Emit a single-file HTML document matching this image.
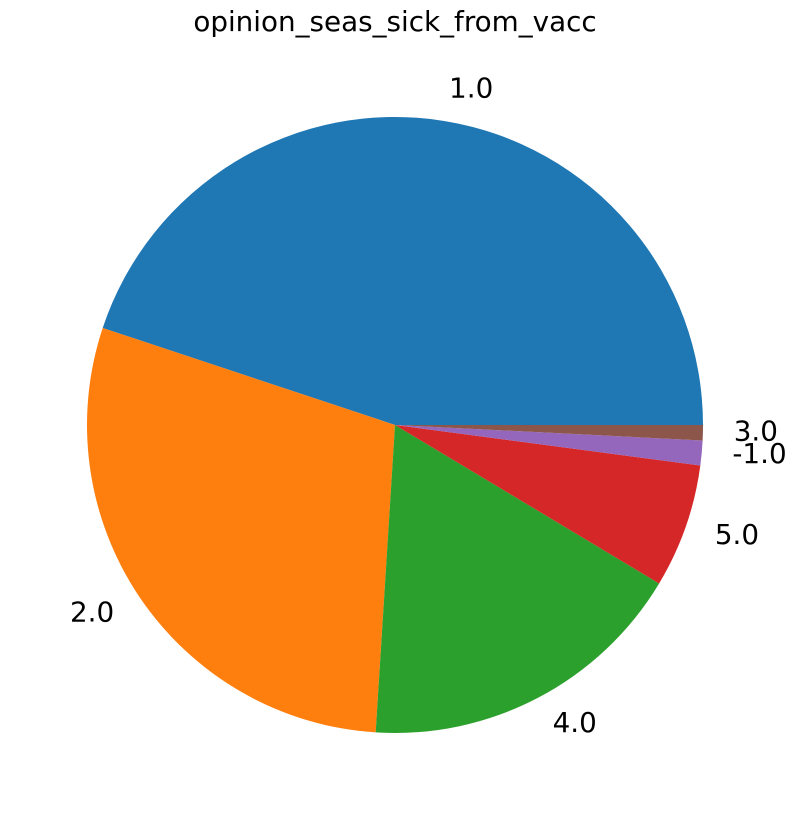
<!DOCTYPE html>
<html><head><meta charset="utf-8"><style>
body{margin:0;background:#fff;}
svg{display:block;font-family:"DejaVu Sans","Liberation Sans",sans-serif;}
</style></head><body>
<svg id="chart" width="796" height="820">
<text x="395" y="31" font-size="27.8" text-anchor="middle" fill="#000">opinion_seas_sick_from_vacc</text>
</svg>
<script>
const categories = ["1.0","2.0","4.0","5.0","-1.0","3.0"];
const values = [449, 291, 174, 65, 13, 8];
const colors = ["#1f77b4","#ff7f0e","#2ca02c","#d62728","#9467bd","#8c564b"];
const svg = document.getElementById('chart');
const NS = 'http://www.w3.org/2000/svg';
const cx = 395, cy = 425, r = 308;
const total = values.reduce((a,b)=>a+b,0);
let start = 0;
function pt(a, rad){ return [cx + rad*Math.cos(a), cy - rad*Math.sin(a)]; }
values.forEach((v,i)=>{
  const sweep = v/total*2*Math.PI;
  const end = start + sweep;
  const [x1,y1] = pt(start,r), [x2,y2] = pt(end,r);
  const large = sweep > Math.PI ? 1 : 0;
  const p = document.createElementNS(NS,'path');
  p.setAttribute('d',`M${cx},${cy} L${x1},${y1} A${r},${r} 0 ${large} 0 ${x2},${y2} Z`);
  p.setAttribute('fill',colors[i]);
  
  
  svg.appendChild(p);
  const mid = start + sweep/2;
  const [lx,ly] = pt(mid, r*1.1);
  const t = document.createElementNS(NS,'text');
  t.setAttribute('x',lx);
  t.setAttribute('y',ly+7);
  t.setAttribute('font-size','27.8');
  t.setAttribute('text-anchor', Math.cos(mid) > 0.01 ? 'start' : (Math.cos(mid) < -0.01 ? 'end' : 'middle'));
  t.textContent = categories[i];
  
  
  svg.appendChild(t);
  start = end;
});
</script>
</body></html>
